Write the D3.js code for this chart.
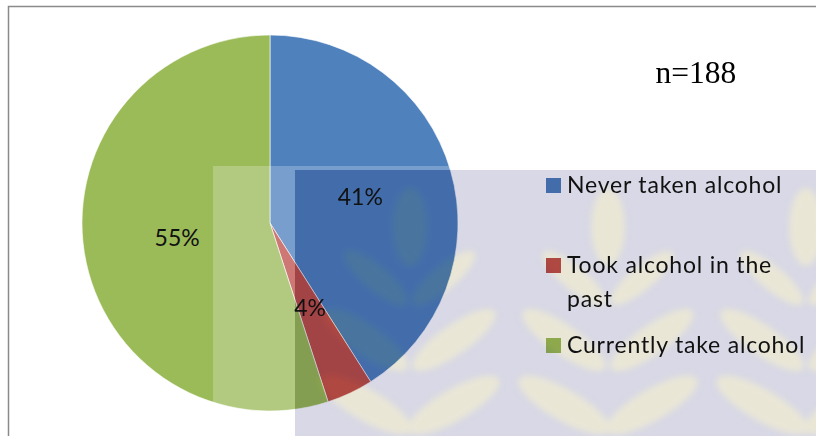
<!DOCTYPE html>
<html>
<head>
<meta charset="utf-8">
<script src="https://cdn.jsdelivr.net/npm/d3@7"></script>
<style>
  body { margin: 0; background: #fff; }
  svg { display: block; }
</style>
</head>
<body>
<div id="chart"></div>
<script>
// data
const categories = ["Never taken alcohol", "Took alcohol in the past", "Currently take alcohol"];
const legendLines = [["Never taken alcohol"], ["Took alcohol in the", "past"], ["Currently take alcohol"]];
const percents = [41, 4, 55];
const colors = ["#4F81BD", "#C0504D", "#9BBB59"];
const sampleLabel = "n=188";

const width = 816, height = 436;

const svg = d3.select("#chart").append("svg")
    .attr("width", width)
    .attr("height", height);

const defs = svg.append("defs");
defs.append("filter").attr("id", "soft")
    .attr("x", "-30%").attr("y", "-30%").attr("width", "160%").attr("height", "160%")
    .append("feGaussianBlur").attr("stdDeviation", 3);
defs.append("clipPath").attr("id", "wmclip")
    .append("rect").attr("x", 295).attr("y", 170)
    .attr("width", width - 295).attr("height", height - 170);

// chart border
svg.append("rect")
    .attr("x", 8.5).attr("y", 6.5)
    .attr("width", width).attr("height", height)
    .attr("fill", "#fff")
    .attr("stroke", "#8a8a8a")
    .attr("stroke-width", 1.5);

// layers: marks, then watermark, then text
const markLayer = svg.append("g");
const wm = svg.append("g").attr("pointer-events", "none");
const textLayer = svg.append("g");

// pie
const cx = 270, cy = 223, radius = 188;
const pie = d3.pie().sort(null).value(d => d);
const arc = d3.arc().innerRadius(0).outerRadius(radius);
const labelArc = d3.arc().innerRadius(0).outerRadius(radius);
const arcs = pie(percents);

markLayer.append("g")
    .attr("transform", "translate(" + cx + "," + cy + ")")
    .selectAll("path").data(arcs).enter().append("path")
    .attr("d", arc)
    .attr("fill", (d, i) => colors[i])
    .attr("stroke", "#fff")
    .attr("stroke-width", 0.6);

textLayer.append("g")
    .attr("transform", "translate(" + cx + "," + cy + ")")
    .selectAll("text").data(arcs).enter().append("text")
    .attr("transform", d => "translate(" + labelArc.centroid(d) + ")")
    .attr("text-anchor", "middle")
    .attr("dy", "0.36em")
    .attr("font-family", "Lato, 'Open Sans', sans-serif")
    .attr("font-size", 23)
    .attr("fill", "#111")
    .text(d => d.data + "%");

// legend
const legendX = 546;
const legendY = d3.scaleBand().domain(categories).range([153, 393]);
categories.forEach((c, i) => {
    const y0 = legendY(c) + 40;
    markLayer.append("rect")
        .attr("x", legendX).attr("y", y0 - 15)
        .attr("width", 15).attr("height", 15)
        .attr("fill", colors[i]);
    legendLines[i].forEach((line, j) => {
        textLayer.append("text")
            .attr("x", legendX + 21)
            .attr("y", y0 + j * 34)
            .attr("font-family", "Lato, 'Open Sans', sans-serif")
            .attr("font-size", 23)
            .attr("letter-spacing", 0.8)
            .attr("fill", "#111")
            .text(line);
    });
});

// n label
textLayer.append("text")
    .attr("x", 696).attr("y", 83)
    .attr("text-anchor", "middle")
    .attr("font-family", "'Liberation Serif', 'Times New Roman', serif")
    .attr("font-size", 31.5)
    .attr("fill", "#000")
    .text(sampleLabel);

// watermark overlay (scanned page background)
wm.append("rect")
    .attr("x", 213).attr("y", 166)
    .attr("width", 295 - 213).attr("height", height - 166)
    .attr("fill", "#fff").attr("opacity", 0.23);
wm.append("rect")
    .attr("x", 295).attr("y", 166)
    .attr("width", width - 295).attr("height", 4)
    .attr("fill", "#fff").attr("opacity", 0.23);

const tint = wm.append("g")
    .attr("clip-path", "url(#wmclip)")
    .style("mix-blend-mode", "multiply");
tint.append("rect")
    .attr("x", 295).attr("y", 170)
    .attr("width", width - 295).attr("height", height - 170)
    .attr("fill", "#d8d8e6");

const treeXs = [410, 608, 806];
const trees = tint.append("g").attr("fill", "#e9e6d6").attr("filter", "url(#soft)");
treeXs.forEach(tx => {
    trees.append("ellipse").attr("cx", tx).attr("cy", 227).attr("rx", 17).attr("ry", 39);
    [-1, 1].forEach(s => {
        [[34, 278, 12, 40, 50], [44, 340, 15, 50, 55], [44, 405, 16, 52, 60]].forEach(l => {
            const ex = tx + s * l[0], ey = l[1];
            trees.append("ellipse")
                .attr("cx", ex).attr("cy", ey)
                .attr("rx", l[2]).attr("ry", l[3])
                .attr("transform", "rotate(" + (s * l[4]) + "," + ex + "," + ey + ")");
        });
    });
});
</script>
</body>
</html>
